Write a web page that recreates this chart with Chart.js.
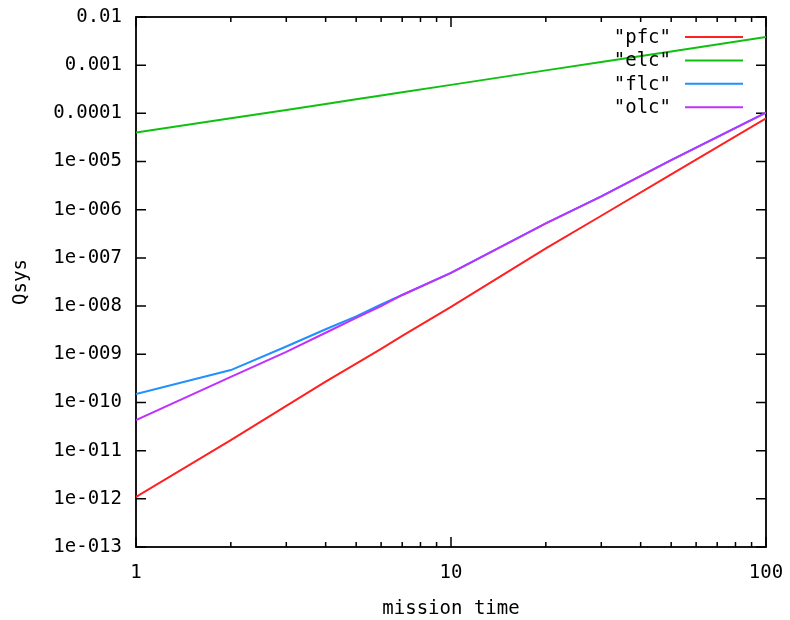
<!DOCTYPE html>
<html>
<head>
<meta charset="utf-8">
<script src="https://cdn.jsdelivr.net/npm/chart.js@4/dist/chart.umd.min.js"></script>
<style>
  html, body { margin: 0; padding: 0; background: #fff; }
  #wrap { width: 790px; height: 620px; }
</style>
</head>
<body>
<div id="wrap"><canvas id="c" width="790" height="620"></canvas></div>
<script>
// ---- data ----
const missionTime = [1, 2, 3, 4, 5, 6, 7, 10, 20, 30, 50, 100];
const pfc = [1.1e-12, 1.66e-11, 8.5e-11, 2.7e-10, 6.4e-10, 1.3e-9, 2.4e-9, 9.6e-9, 1.57e-7, 7.5e-7, 5.4e-6, 7.9e-5];
const elc = [4.0e-5, 7.9e-5, 1.18e-4, 1.57e-4, 1.96e-4, 2.35e-4, 2.74e-4, 3.9e-4, 7.8e-4, 1.16e-3, 1.93e-3, 3.85e-3];
const flc = [1.5e-10, 4.7e-10, 1.45e-9, 3.3e-9, 6.1e-9, 1.08e-8, 1.7e-8, 4.9e-8, 5.2e-7, 1.9e-6, 1.07e-5, 1.03e-4];
const olc = [4.3e-11, 3.4e-10, 1.12e-9, 2.8e-9, 5.7e-9, 1.0e-8, 1.7e-8, 4.9e-8, 5.2e-7, 1.9e-6, 1.07e-5, 1.03e-4];
const seriesNames = ['"pfc"', '"elc"', '"flc"', '"olc"'];
const seriesColors = ['#ff2020', '#10c010', '#2090ff', '#c030ff'];

const xMajorTicks = [1, 10, 100];
const xMajorLabels = ['1', '10', '100'];
const xMinorTicks = [2, 3, 4, 5, 6, 7, 8, 9, 20, 30, 40, 50, 60, 70, 80, 90];
const yTickValues = [1e-2, 1e-3, 1e-4, 1e-5, 1e-6, 1e-7, 1e-8, 1e-9, 1e-10, 1e-11, 1e-12, 1e-13];
const yTickLabels = ['0.01', '0.001', '0.0001', '1e-005', '1e-006', '1e-007', '1e-008', '1e-009', '1e-010', '1e-011', '1e-012', '1e-013'];
const xTitle = 'mission time';
const yTitle = 'Qsys';

const FONT = { family: '"DejaVu Sans Mono", monospace', size: 19 };

function pts(vals) { return missionTime.map((t, i) => ({ x: t, y: vals[i] })); }
const seriesValues = [pfc, elc, flc, olc];

const frameAndTicks = {
  id: 'frameAndTicks',
  beforeDatasetsDraw(chart) {
    const { ctx, chartArea: a, scales: { x, y } } = chart;
    ctx.save();
    ctx.strokeStyle = '#000';
    ctx.lineWidth = 1.8;
    ctx.strokeRect(a.left, a.top, a.right - a.left, a.bottom - a.top);
    ctx.lineWidth = 1.5;
    ctx.beginPath();
    x.ticks.forEach(t => {
      const px = x.getPixelForValue(t.value);
      const len = xMajorTicks.includes(t.value) ? 10 : 5;
      ctx.moveTo(px, a.bottom); ctx.lineTo(px, a.bottom - len);
      ctx.moveTo(px, a.top); ctx.lineTo(px, a.top + len);
    });
    y.ticks.forEach(t => {
      const py = y.getPixelForValue(t.value);
      ctx.moveTo(a.left, py); ctx.lineTo(a.left + 10, py);
      ctx.moveTo(a.right, py); ctx.lineTo(a.right - 10, py);
    });
    ctx.stroke();
    ctx.restore();
  }
};

const keyBox = {
  id: 'keyBox',
  afterDatasetsDraw(chart) {
    const { ctx } = chart;
    ctx.save();
    ctx.font = FONT.size + 'px ' + FONT.family;
    ctx.textAlign = 'right';
    ctx.textBaseline = 'middle';
    chart.data.datasets.forEach((ds, i) => {
      const yy = 37 + i * 23.4;
      ctx.fillStyle = '#000';
      ctx.fillText(ds.label, 671, yy + 1);
      ctx.strokeStyle = ds.borderColor;
      ctx.lineWidth = 2;
      ctx.beginPath();
      ctx.moveTo(685, yy); ctx.lineTo(743, yy);
      ctx.stroke();
    });
    ctx.restore();
  }
};

new Chart(document.getElementById('c'), {
  type: 'line',
  data: {
    datasets: seriesNames.map((name, i) => ({
      label: name,
      data: pts(seriesValues[i]),
      borderColor: seriesColors[i],
      backgroundColor: seriesColors[i],
      borderWidth: 2,
      pointRadius: 0,
      tension: 0,
      fill: false,
      order: seriesNames.length - 1 - i
    }))
  },
  options: {
    responsive: false,
    animation: false,
    events: [],
    layout: { padding: { left: 0, right: 24, top: 17, bottom: 0 } },
    plugins: { legend: { display: false }, tooltip: { enabled: false } },
    scales: {
      x: {
        type: 'logarithmic',
        min: 1, max: 100,
        grid: { display: false, drawTicks: false, tickLength: 0 },
        border: { display: false },
        afterBuildTicks(scale) {
          scale.ticks = xMajorTicks.concat(xMinorTicks).sort((a, b) => a - b).map(v => ({ value: v }));
        },
        afterFit(scale) {
          scale.height = 73;
          scale.paddingLeft = 0; scale.paddingRight = 0;
        },
        ticks: {
          autoSkip: false, maxRotation: 0, minRotation: 0,
          padding: 15, color: '#000', font: FONT,
          callback(v) { const k = xMajorTicks.indexOf(v); return k >= 0 ? xMajorLabels[k] : ''; }
        },
        title: { display: true, text: xTitle, color: '#000', font: FONT, padding: { top: 0, bottom: 0 } }
      },
      y: {
        type: 'logarithmic',
        min: 1e-13, max: 1e-2,
        grid: { display: false, drawTicks: false, tickLength: 0 },
        border: { display: false },
        afterBuildTicks(scale) {
          scale.ticks = yTickValues.map(v => ({ value: v }));
        },
        afterFit(scale) {
          scale.width = 136;
          scale.paddingTop = 0; scale.paddingBottom = 0;
        },
        ticks: {
          autoSkip: false, padding: 14, color: '#000', font: FONT,
          callback(v) {
            const k = yTickValues.findIndex(t => Math.abs(Math.log10(t) - Math.log10(v)) < 1e-6);
            return k >= 0 ? yTickLabels[k] : '';
          }
        },
        title: { display: true, text: yTitle, color: '#000', font: FONT, padding: { top: 10, bottom: 0 } }
      }
    }
  },
  plugins: [frameAndTicks, keyBox]
});
</script>
</body>
</html>
